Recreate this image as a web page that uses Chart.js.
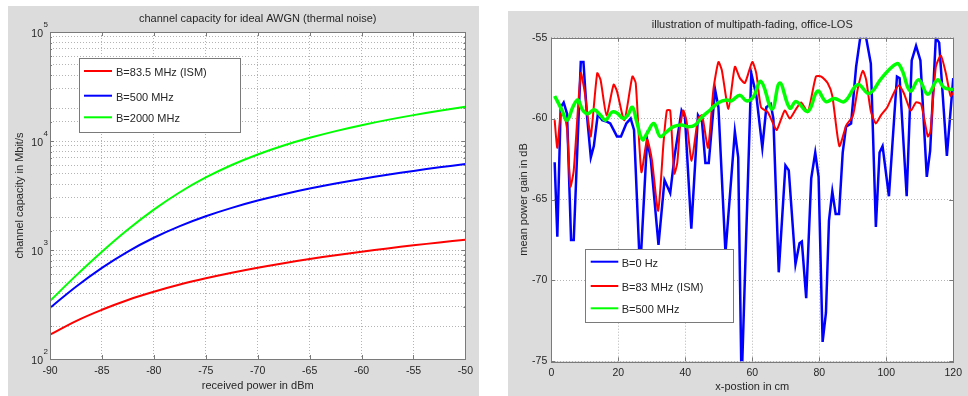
<!DOCTYPE html>
<html>
<head>
<meta charset="utf-8">
<script src="https://cdn.jsdelivr.net/npm/chart.js@4.4.0/dist/chart.umd.min.js"></script>
<style>
  body { margin: 0; background: #fff; width: 968px; height: 396px; overflow: hidden; position: relative; }
  .panel { position: absolute; background: #dcdcdc; }
  .panel canvas { display: block; }
  #p1 { left: 8px; top: 6px; width: 471px; height: 390px; }
  #p2 { left: 508px; top: 11px; width: 460px; height: 385px; }
</style>
</head>
<body>
<div class="panel" id="p1"><canvas id="c1" width="471" height="390"></canvas></div>
<div class="panel" id="p2"><canvas id="c2" width="460" height="385"></canvas></div>
<script>
// --- left: channel capacity (Mbit/s) vs received power (dBm) ---
const powerDbm = [-90, -87.5, -85, -82.5, -80, -77.5, -75, -72.5, -70, -67.5, -65, -62.5, -60, -57.5, -55, -52.5, -50];
const capIsm = [167, 223, 283, 348, 414, 482, 550, 619, 688, 757, 826, 896, 965, 1034, 1103, 1173, 1242];
const cap500 = [294, 460, 686, 968, 1295, 1656, 2039, 2435, 2840, 3249, 3660, 4073, 4488, 4902, 5317, 5732, 6147];
const cap2000 = [341, 582, 965, 1542, 2347, 3387, 4628, 6023, 7523, 9090, 10695, 12325, 13968, 15620, 17274, 18932, 20591];
const capPowers = [2, 3, 4, 5];

// --- right: multipath fading, office-LOS ---
const blueX = [1, 1.8, 2.8, 3.7, 4.7, 5.9, 6.7, 8.8, 9.6, 10.6, 11.8, 12.7, 13.9, 15.2, 16.7, 17.6, 19.6, 20.8, 22.4, 23.7,
  24.7, 26.5, 28.6, 29.7, 32, 33.8, 35.5, 36.8, 38.9, 39.9, 41.8, 43.8, 45, 46, 47, 48.9, 49.9, 52, 54.8, 55.8,
  56.8, 59.7, 61.2, 63, 64.2, 65.5, 66.3, 67.9, 69.9, 70.9, 72.9, 74.1, 74.8, 76.1, 77.6, 78.8, 79.8, 81, 82, 82.9,
  83.9, 84.9, 85.9, 87, 88, 89.5, 91, 92.3, 93.9, 95.4, 96.9, 98, 98.9, 100.8, 101.8, 103.2, 104, 106.1, 107.6, 108.9,
  110.2, 112.1, 113.1, 114.8, 115.8, 118.1, 120];
const blueY = [-62.7, -67.3, -59.3, -59.0, -59.7, -67.5, -67.5, -56.5, -56.5, -59.7, -62.4, -61.7, -59.7, -60.1, -60.2, -60.3, -61.1, -61.1, -60.3, -60.0,
  -60.7, -69.5, -61.3, -62.5, -67.8, -63.8, -64.6, -62.3, -59.5, -59.9, -66.8, -59.8, -60.2, -62.75, -62.75, -58.2, -59.3, -68.3, -60.8, -62.4,
  -76.5, -57.2, -58.55, -61.8, -59.3, -59.1, -60.0, -69.5, -62.9, -63.2, -69.0, -67.7, -67.6, -71.1, -63.7, -62.1, -63.6, -73.8, -72.0, -66.3,
  -64.5, -65.9, -65.9, -62.1, -60.5, -60.3, -56.8, -54.9, -54.9, -56.6, -66.7, -62.1, -61.7, -64.8, -61.7, -57.4, -57.5, -64.8, -56.4, -55.5,
  -56.4, -63.6, -62.0, -55.0, -55.3, -62.3, -57.5];

const redX = [1, 1.8, 2.8, 3.8, 4.7, 5.7, 6.7, 8.8, 10, 11, 11.8, 13.7, 14.7, 16.5, 18.6, 19.6, 21.8, 24.2, 25.2, 26.9,
  28.6, 30, 31.9, 33.5, 34.5, 35.5, 36.7, 37.6, 38.4, 39.4, 40.4, 41.9, 43.8, 45, 46.8, 48.4, 49.9, 50.9, 52.9, 54.8,
  56.3, 57.8, 60, 61.2, 62.6, 64.6, 66, 67.3, 69.7, 71.2, 73.1, 74.6, 76.6, 79, 80.6, 82.5, 83.9, 86, 88.1, 90,
  91.5, 93, 94, 95.4, 96.9, 98.4, 100.3, 102.3, 103.7, 105.2, 107.3, 108.9, 110.4, 112.4, 113.2, 114.8, 116.3, 117.8, 119.2, 120];
const redY = [-60.1, -61.8, -59.7, -59.85, -60.6, -64.2, -63.2, -57.2, -58.4, -60.1, -61.1, -57.2, -57.6, -59.8, -57.9, -58.3, -60.1, -57.4, -57.8, -63.3,
  -61.3, -62.5, -65.7, -61.5, -59.5, -59.5, -63.4, -62.75, -60.6, -59.5, -60.2, -62.6, -60.0, -59.8, -61.8, -58.2, -56.5, -57.0, -59.4, -56.8,
  -57.5, -57.8, -56.5, -57.2, -59.3, -59.6, -60.2, -60.7, -59.5, -60.0, -59.4, -59.0, -59.6, -57.4, -57.4, -57.8, -58.6, -61.7, -60.4, -59.85,
  -58.15, -57.05, -57.6, -59.55, -60.3, -59.8, -59.3, -58.4, -57.95, -58.4, -59.5, -59.0, -59.1, -61.1, -60.8, -56.8, -56.1, -57.2, -58.6, -58.4];

const greenX = [1, 3, 4.7, 6.5, 7.9, 9.3, 10.8, 12.8, 14.7, 16.2, 18.1, 19.6, 21.5, 22.8, 24.2, 25.5, 27.2, 28.6, 30.6, 32.5,
  34.5, 36.5, 38.9, 40.9, 42.9, 45, 47.5, 50, 52.4, 53.8, 56.3, 58.2, 60.2, 62.6, 65.9, 68.2, 71.2, 73.1, 76.6, 79.5,
  82, 84.5, 87.5, 91.5, 94.9, 98.8, 103.2, 104.7, 107.2, 109.7, 112.4, 115.3, 117.3, 120];
const greenY = [-58.6, -59.4, -60.1, -59.25, -58.85, -59.45, -59.7, -59.45, -59.8, -60.1, -59.6, -59.65, -60.0, -59.8, -59.3, -60.2, -61.3, -60.9, -60.3, -61.1,
  -60.8, -60.5, -60.4, -60.5, -60.4, -59.9, -59.45, -59.0, -58.85, -58.9, -58.55, -58.9, -58.7, -57.7, -59.4, -57.8, -59.35, -58.95, -59.55, -58.3,
  -58.95, -58.75, -58.95, -57.9, -58.45, -57.45, -56.6, -57.0, -58.3, -57.6, -58.5, -57.6, -58.1, -58.2];

const FONT = '"Liberation Sans", Arial, sans-serif';
const TXT = '#262626';
Chart.defaults.font.family = FONT;
Chart.defaults.font.size = 10.5;
Chart.defaults.color = TXT;

const toXY = (xs, ys) => xs.map((x, i) => ({ x: x, y: ys[i] }));

// MATLAB look: white axes, box, inward ticks, title, boxed legend
const matlabPlugin = {
  id: 'matlab',
  beforeDraw(chart) {
    const a = chart.chartArea, ctx = chart.ctx;
    ctx.save();
    ctx.fillStyle = '#fff';
    ctx.fillRect(a.left, a.top, a.right - a.left, a.bottom - a.top);
    ctx.restore();
  },
  afterDraw(chart, args, opts) {
    const a = chart.chartArea, ctx = chart.ctx;
    const sx = chart.scales.x, sy = chart.scales.y;
    ctx.save();
    ctx.strokeStyle = '#7a7a7a';
    ctx.lineWidth = 1;
    // inward ticks
    ctx.beginPath();
    sx.ticks.forEach(t => {
      const px = Math.round(sx.getPixelForValue(t.value)) + 0.5;
      ctx.moveTo(px, a.bottom); ctx.lineTo(px, a.bottom - 4);
      ctx.moveTo(px, a.top); ctx.lineTo(px, a.top + 4);
    });
    sy.ticks.forEach(t => {
      const py = Math.round(sy.getPixelForValue(t.value)) + 0.5;
      const major = sy.type !== 'logarithmic' || Number.isInteger(Math.log10(t.value) + 1e-9 - 1e-9) && capPowers.includes(Math.round(Math.log10(t.value)));
      const len = major ? 4 : 2;
      ctx.moveTo(a.left, py); ctx.lineTo(a.left + len, py);
      ctx.moveTo(a.right, py); ctx.lineTo(a.right - len, py);
    });
    ctx.stroke();
    // box
    ctx.strokeRect(Math.round(a.left) + 0.5, Math.round(a.top) + 0.5, Math.round(a.right - a.left), Math.round(a.bottom - a.top));

    // title
    ctx.font = '11px ' + FONT;
    ctx.fillStyle = TXT;
    ctx.textAlign = 'center';
    ctx.textBaseline = 'middle';
    ctx.fillText(opts.title, (a.left + a.right) / 2, opts.titleY);

    // 10^n labels
    if (opts.powers) {
      opts.powers.forEach(p => {
        const py = sy.getPixelForValue(Math.pow(10, p));
        ctx.font = '10.5px ' + FONT;
        ctx.textAlign = 'right';
        ctx.fillText('10', a.left - 7, py + 2);
        ctx.font = '8px ' + FONT;
        ctx.textAlign = 'left';
        ctx.fillText(String(p), a.left - 6.5, py - 7.5);
      });
    }

    // legend
    const lg = opts.legend;
    ctx.fillStyle = '#fff';
    ctx.fillRect(lg.x, lg.y, lg.w, lg.h);
    ctx.strokeStyle = '#7a7a7a';
    ctx.strokeRect(lg.x + 0.5, lg.y + 0.5, lg.w, lg.h);
    ctx.font = '11px ' + FONT;
    ctx.textAlign = 'left';
    ctx.textBaseline = 'middle';
    lg.order.forEach((idx, i) => {
      const ds = chart.data.datasets[idx];
      const y = lg.rows[i];
      ctx.strokeStyle = ds.borderColor;
      ctx.lineWidth = 2;
      ctx.beginPath();
      ctx.moveTo(lg.x0, y); ctx.lineTo(lg.x1, y);
      ctx.stroke();
      ctx.fillStyle = TXT;
      ctx.fillText(ds.label, lg.tx, y + 2);
    });
    ctx.restore();
  }
};

const gridOpts = { color: '#b4b4b4', drawTicks: false };
const borderOpts = { display: false, dash: [1, 2] };

new Chart(document.getElementById('c1'), {
  type: 'line',
  data: {
    datasets: [
      { label: 'B=83.5 MHz (ISM)', data: toXY(powerDbm, capIsm), borderColor: '#ff0000', borderWidth: 2, pointRadius: 0, tension: 0.4 },
      { label: 'B=500 MHz', data: toXY(powerDbm, cap500), borderColor: '#0000ff', borderWidth: 2, pointRadius: 0, tension: 0.4 },
      { label: 'B=2000 MHz', data: toXY(powerDbm, cap2000), borderColor: '#00ff00', borderWidth: 2, pointRadius: 0, tension: 0.4 }
    ]
  },
  options: {
    responsive: false,
    animation: false,
    layout: { padding: { top: 26, right: 13, left: 0, bottom: 0 } },
    plugins: {
      legend: { display: false },
      tooltip: { enabled: false },
      matlab: {
        title: 'channel capacity for ideal AWGN (thermal noise)',
        titleY: 13,
        powers: capPowers,
        legend: { x: 71, y: 52, w: 161, h: 74, x0: 76, x1: 104, tx: 108, rows: [65, 89.7, 111.3], order: [0, 1, 2] }
      }
    },
    scales: {
      x: {
        type: 'linear', min: -90, max: -50,
        afterFit: s => { s.height = 37; },
        ticks: { stepSize: 5, padding: 6, maxRotation: 0 },
        grid: gridOpts, border: borderOpts,
        title: { display: true, text: 'received power in dBm', font: { size: 11 }, padding: { top: 0, bottom: 3 } }
      },
      y: {
        type: 'logarithmic', min: 100, max: 100000,
        afterFit: s => { s.width = 42; },
        ticks: { autoSkip: false, callback: () => '' },
        grid: gridOpts, border: borderOpts,
        title: { display: true, text: 'channel capacity in Mbit/s', font: { size: 11 }, padding: { top: 5, bottom: 0 } }
      }
    }
  },
  plugins: [matlabPlugin]
});

new Chart(document.getElementById('c2'), {
  type: 'line',
  data: {
    datasets: [
      { label: 'B=0 Hz', data: toXY(blueX, blueY), borderColor: '#0000ff', borderWidth: 2.5, pointRadius: 0, tension: 0, order: 3 },
      { label: 'B=83 MHz (ISM)', data: toXY(redX, redY), borderColor: '#ff0000', borderWidth: 2, pointRadius: 0, tension: 0.2, order: 2 },
      { label: 'B=500 MHz', data: toXY(greenX, greenY), borderColor: '#00ff00', borderWidth: 3.5, pointRadius: 0, tension: 0.4, order: 1 }
    ]
  },
  options: {
    responsive: false,
    animation: false,
    layout: { padding: { top: 26.7, right: 9, left: 0, bottom: 0 } },
    plugins: {
      legend: { display: false },
      tooltip: { enabled: false },
      matlab: {
        title: 'illustration of multipath-fading, office-LOS',
        titleY: 14,
        legend: { x: 77, y: 238, w: 148, h: 73, x0: 82.7, x1: 110.3, tx: 113.7, rows: [250.7, 275, 297.3], order: [0, 1, 2] }
      }
    },
    scales: {
      x: {
        type: 'linear', min: 0, max: 120,
        afterFit: s => { s.height = 34.7; },
        ticks: { stepSize: 20, padding: 6, maxRotation: 0 },
        grid: gridOpts, border: borderOpts,
        title: { display: true, text: 'x-postion in cm', font: { size: 11 }, padding: { top: 0, bottom: 2.7 } }
      },
      y: {
        type: 'linear', min: -75, max: -55,
        afterFit: s => { s.width = 43.3; },
        ticks: { stepSize: 5, padding: 4 },
        grid: gridOpts, border: borderOpts,
        title: { display: true, text: 'mean power gain in dB', font: { size: 11 }, padding: { top: 9.4, bottom: 0 } }
      }
    }
  },
  plugins: [matlabPlugin]
});
</script>
</body>
</html>
